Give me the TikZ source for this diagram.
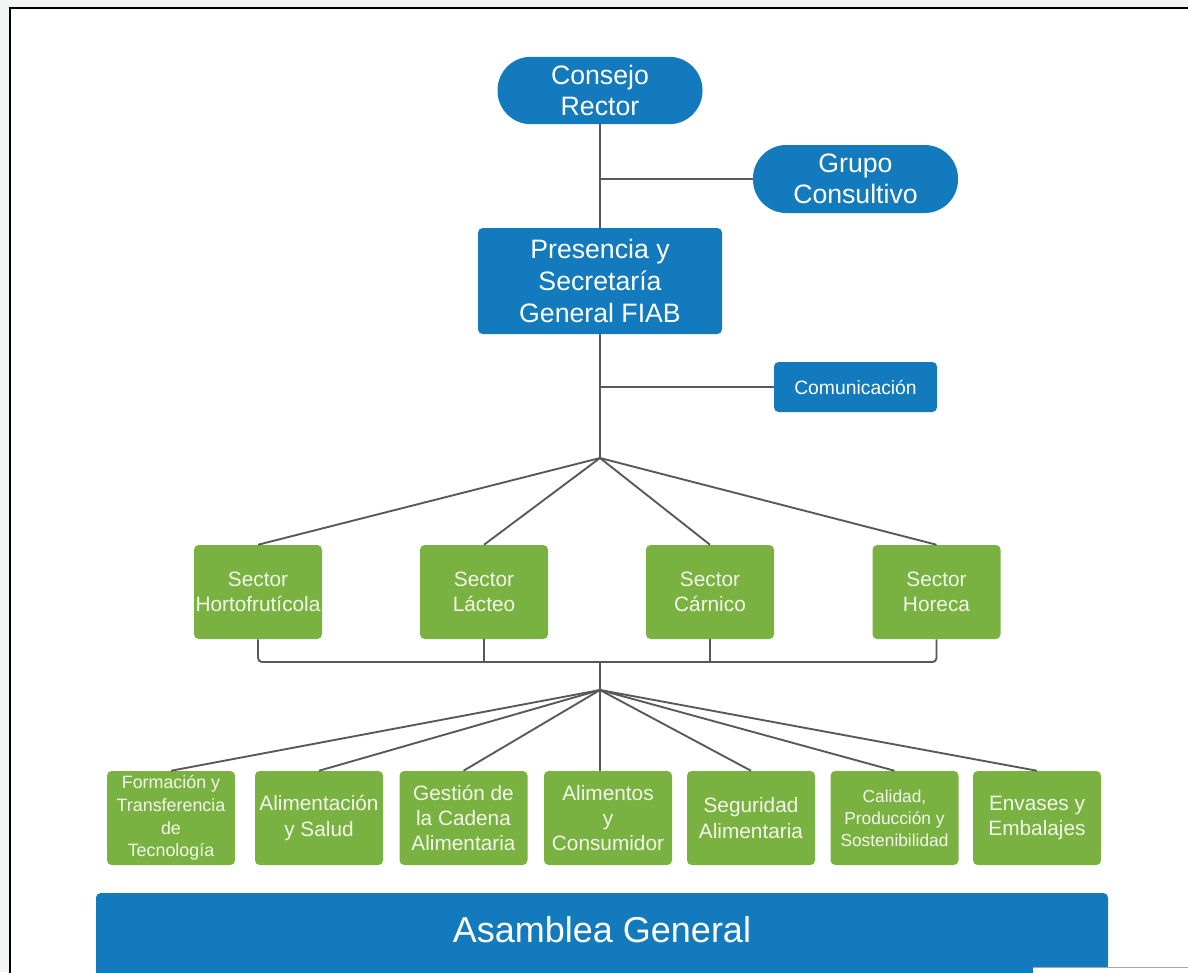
\documentclass[tikz,border=0pt]{standalone}
\usepackage{fontspec}
\setmainfont{Liberation Sans}
\definecolor{fblue}{RGB}{18,122,189}
\definecolor{fgreen}{RGB}{122,178,66}
\definecolor{fline}{RGB}{88,88,88}
\definecolor{outbg}{RGB}{243,244,246}
\definecolor{gtext}{RGB}{242,247,234}
\begin{document}
\begin{tikzpicture}[x=0.75pt,y=-0.75pt,
  bluepill/.style={fill=fblue,text=white,rounded corners=25pt,minimum width=153.75pt,
    minimum height=50.5pt,align=center,inner sep=0pt,font=\fontsize{20}{23.5}\selectfont},
  bluebox/.style={fill=fblue,text=white,rounded corners=3.5pt,align=center,inner sep=0pt},
  greenbox/.style={fill=fgreen,text=gtext,rounded corners=3.5pt,align=center,inner sep=0pt,
    minimum width=96pt,minimum height=70.5pt},
  sectorfont/.style={font=\fontsize{15.6}{18.8}\selectfont},
  areafont/.style={font=\fontsize{15.6}{19}\selectfont},
  smallfont/.style={font=\fontsize{13.4}{17}\selectfont},
  tinyfont/.style={font=\fontsize{13}{16.5}\selectfont},
  conn/.style={draw=fline,line width=1.4pt}
]
\clip (0,0) rectangle (1188,972);
\useasboundingbox (0,0) rectangle (1188,972);
\fill[outbg] (0,0) rectangle (1188,972);
\fill[white] (10,8) rectangle (1188,972);
\draw[black,line width=1.6pt] (10,1000) -- (10,8) -- (1200,8);

% top level
\node[bluepill] (consejo) at (600,90.5) {Consejo\\Rector};
\node[bluepill,minimum height=51pt] (grupo) at (855.5,179) {Grupo\\Consultivo};
\node[bluebox,minimum width=183pt,minimum height=79.5pt,font=\fontsize{20}{24}\selectfont]
  (pres) at (600,281) {Presencia y\\Secretaría\\General FIAB};
\node[bluebox,minimum width=122.25pt,minimum height=37.5pt,font=\fontsize{14.5}{17}\selectfont]
  (com) at (855.5,387) {Comunicación};

% sectors
\node[greenbox,sectorfont] (s1) at (258,592) {Sector\\Hortofrutícola};
\node[greenbox,sectorfont] (s2) at (484,592) {Sector\\Lácteo};
\node[greenbox,sectorfont] (s3) at (710,592) {Sector\\Cárnico};
\node[greenbox,sectorfont] (s4) at (936.5,592) {Sector\\Horeca};

% areas
\node[greenbox,smallfont] (b1) at (171,818) {Formación y\\Transferencia\\de\\Tecnología};
\node[greenbox,areafont] (b2) at (319,818) {Alimentación\\y Salud};
\node[greenbox,areafont] (b3) at (463.5,818) {Gestión de\\la Cadena\\Alimentaria};
\node[greenbox,areafont] (b4) at (608,818) {Alimentos\\y\\Consumidor};
\node[greenbox,areafont] (b5) at (751,818) {Seguridad\\Alimentaria};
\node[greenbox,tinyfont] (b6) at (894.5,818) {Calidad,\\Producción y\\Sostenibilidad};
\node[greenbox,areafont] (b7) at (1037,818) {Envases y\\Embalajes};

% asamblea (box runs past the bottom edge)
\fill[fblue] (96,930) rectangle (1108,1000);
\node[bluebox,minimum width=759pt,minimum height=55.5pt,font=\fontsize{27}{32}\selectfont]
  (asam) at (602,930) {Asamblea General};

% junctions
\coordinate (j1) at (600,179);
\coordinate (hub1) at (600,458);
\coordinate (busy) at (600,662);
\coordinate (hub2) at (600,690);

% connectors
\draw[conn] (consejo.south) -- (pres.north);
\draw[conn] (j1) -- (grupo.west);
\draw[conn] (pres.south) -- (hub1);
\draw[conn] (com.west) -- (com.west -| pres.south);
\foreach \s in {s1,s2,s3,s4} \draw[conn] (hub1) -- (\s.north);
\draw[conn,rounded corners=3pt] (s1.south) -- (s1.south |- busy) -- (s4.south |- busy) -- (s4.south);
\draw[conn] (s2.south) -- (s2.south |- busy);
\draw[conn] (s3.south) -- (s3.south |- busy);
\draw[conn] (busy) -- (hub2);
\foreach \b in {b1,b2,b3,b5,b6,b7} \draw[conn] (hub2) -- (\b.north);
\draw[conn] (hub2) -- (hub2 |- b4.north);

% bottom-right overlay strip
\fill[white] (1033,967) rectangle (1200,980);
\draw[gray!70,line width=0.8pt] (1033,967.5) -- (1200,967.5);
\end{tikzpicture}
\end{document}
